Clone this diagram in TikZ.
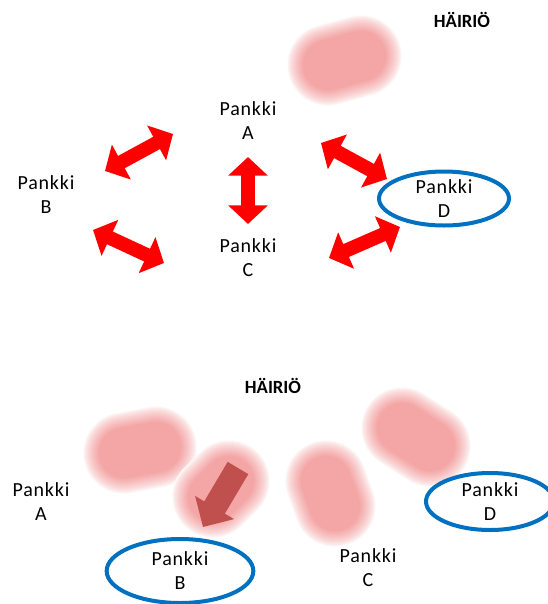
\documentclass[tikz,border=0pt]{standalone}
\usepackage{fontspec}
\setmainfont{Carlito}
\usetikzlibrary{arrows.meta,shapes.geometric}

\definecolor{hazepink}{RGB}{244,166,166}
\definecolor{swapred}{RGB}{255,0,0}
\definecolor{ringblue}{RGB}{0,112,192}
\definecolor{shiftred}{RGB}{192,80,77}

% soft blurred patch: a fat round-capped stroke, lighter towards the rim
\newcommand{\hazeblob}[2]{%
  \foreach \k in {0,...,16}{%
    \pgfmathsetmacro{\hw}{1.5*(41-\k)}%
    \pgfmathtruncatemacro{\hc}{4+96*(\k/16)^0.75}%
    \draw[hazepink!\hc, line width=\hw pt, line cap=round] #1 -- #2;
  }}

\tikzset{
  bank/.style={align=center,
    font=\fontsize{15}{18}\selectfont\addfontfeature{LetterSpace=4}},
  ring/.style={bank, ellipse, draw=ringblue, line width=3pt, inner sep=0pt},
  swap/.style={draw=swapred, line width=10.5pt,
    {Triangle[width=29pt,length=14pt]}-{Triangle[width=29pt,length=14pt]}},
  spread/.style={draw=shiftred, line width=18pt,
    -{Triangle[width=33pt,length=17pt]}},
  alarm/.style={font=\fontsize{14}{16}\selectfont\bfseries}
}

\begin{document}
\begin{tikzpicture}[x=0.75pt,y=-0.75pt]
    \useasboundingbox (0,0) rectangle (548,604);

    % disturbance patches
    \hazeblob{(361,56)}{(328,65)}
    \hazeblob{(156,447)}{(124,453)}
    \hazeblob{(229,481)}{(213,497)}
    \hazeblob{(326,481)}{(335,506)}
    \hazeblob{(402,428)}{(430,446)}

    % upper half: banks trading with each other
    \node[alarm] (alarm1) at (462,20) {HÄIRIÖ};
    \node[bank] (a1) at (248,121) {Pankki\\A};
    \node[bank] (b1) at (46,195) {Pankki\\B};
    \node[bank] (c1) at (248,258) {Pankki\\C};
    \node[ring, minimum width=97.5pt, minimum height=40.5pt] (d1) at (444,198.5) {Pankki\\D};

    \coordinate (ab1) at (173,134);
    \coordinate (ab2) at (105,171);
    \coordinate (ac1) at (248,157);
    \coordinate (ac2) at (248,224);
    \coordinate (bc1) at (93,230);
    \coordinate (bc2) at (164,263);
    \coordinate (ad1) at (321,143);
    \coordinate (ad2) at (387,179);
    \coordinate (cd1) at (329,258);
    \coordinate (cd2) at (400,227);

    \draw[swap] (ab1) -- (ab2);
    \draw[swap] (ac1) -- (ac2);
    \draw[swap] (bc1) -- (bc2);
    \draw[swap] (ad1) -- (ad2);
    \draw[swap] (cd1) -- (cd2);

    % lower half: the shock spreads
    \node[alarm] (alarm2) at (273,386) {HÄIRIÖ};
    \node[bank] (a2) at (41,502) {Pankki\\A};
    \node[bank] (c2) at (368,568) {Pankki\\C};

    \coordinate (hit1) at (238,468);
    \coordinate (hit2) at (203,527);
    \draw[spread] (hit1) -- (hit2);

    \node[ring, minimum width=110pt, minimum height=48pt] (b2) at (180,571) {Pankki\\B};
    \node[ring, minimum width=96pt, minimum height=42.75pt] (d2) at (490,501.5) {Pankki\\D};

\end{tikzpicture}
\end{document}
